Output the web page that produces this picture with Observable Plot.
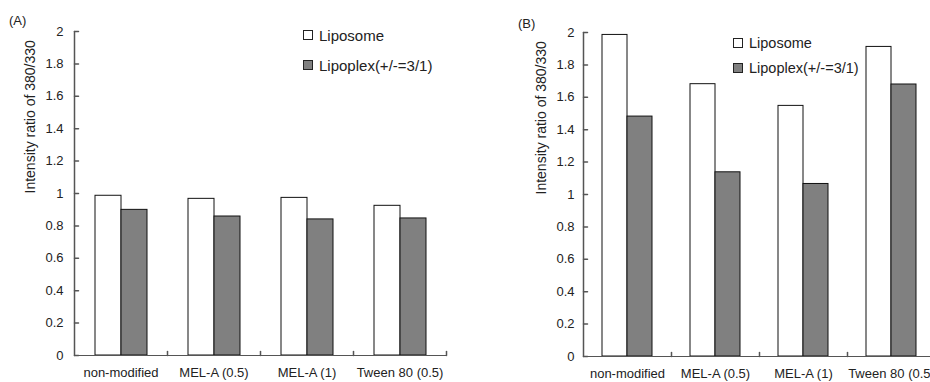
<!DOCTYPE html>
<html><head><meta charset="utf-8">
<script src="https://cdn.jsdelivr.net/npm/d3@7"></script>
<script src="https://cdn.jsdelivr.net/npm/@observablehq/plot@0.6"></script>
<style>
body{margin:0;background:#fff;}
#wrap{position:relative;width:930px;height:382px;overflow:hidden;font-family:"Liberation Sans",Arial,sans-serif;color:#222;}
.panel{position:absolute;top:0;}
.tag{position:absolute;font-size:13px;line-height:1;}
.leg{position:absolute;line-height:1;white-space:nowrap;display:flex;align-items:center;}
.sw{display:inline-block;box-sizing:border-box;border:1px solid #222;margin-right:6px;}
</style></head><body><div id="wrap"></div>
<script>
const categories = ["non-modified", "MEL-A (0.5)", "MEL-A (1)", "Tween 80 (0.5)"];
const series = ["Liposome", "Lipoplex(+/-=3/1)"];
const liposomeA = [0.986, 0.967, 0.973, 0.924];
const lipoplexA = [0.899, 0.858, 0.840, 0.846];
const liposomeB = [1.985, 1.681, 1.547, 1.911];
const lipoplexB = [1.481, 1.137, 1.065, 1.679];
const yTicks = [0, 0.2, 0.4, 0.6, 0.8, 1, 1.2, 1.4, 1.6, 1.8, 2];
const yLabel = "Intensity ratio of 380/330";
const panelTags = ["(A)", "(B)"];
const seriesColors = ["#ffffff", "#808080"];

const axisColor = "#555";
const vTick = {draw(ctx, l) { ctx.moveTo(0, 0); ctx.lineTo(0, -l); }};
const H = 382;

function makePanel(lipo, plex, cfg) {
  const rows = [];
  categories.forEach((c, i) => {
    rows.push({category: c, series: series[0], value: lipo[i]});
    rows.push({category: c, series: series[1], value: plex[i]});
  });
  const frameH = H - cfg.marginTop - cfg.marginBottom;
  const first = () => categories[0];
  return Plot.plot({
    width: cfg.width, height: H,
    marginLeft: cfg.marginLeft, marginRight: cfg.marginRight,
    marginTop: cfg.marginTop, marginBottom: cfg.marginBottom,
    style: {fontFamily: "'Liberation Sans', Arial, sans-serif", fontSize: "13px", color: "#222", background: "transparent"},
    fx: {domain: categories, padding: 0, axis: null},
    x: {domain: series, paddingInner: 0, paddingOuter: cfg.pad, axis: null},
    y: {domain: [0, 2], axis: null},
    color: {domain: series, range: seriesColors},
    marks: [
      Plot.barY(rows, {fx: "category", x: "series", y: "value", fill: "series", stroke: "#111", strokeWidth: 1}),
      Plot.ruleY([0], {stroke: axisColor}),
      Plot.vector([0], {frameAnchor: "bottom-right", rotate: 0, length: 4, anchor: "start", shape: vTick, stroke: axisColor}),
      Plot.vector([0], {fx: first, frameAnchor: "bottom-left", rotate: 0, length: frameH, anchor: "start", shape: vTick, stroke: axisColor}),
      Plot.vector(yTicks, {fx: first, y: d => d, frameAnchor: "left", rotate: 90, length: 4, anchor: "start", shape: vTick, stroke: axisColor}),
      Plot.axisY({ticks: yTicks, tickSize: 0, tickPadding: cfg.tickPadding, tickFormat: d => String(+d.toFixed(1)), label: null, fontSize: 13}),
      Plot.axisFx({anchor: "bottom", tickSize: 0, tickPadding: 12, label: null, fontSize: 13}),
      Plot.text([yLabel], {fx: first, text: d => d, frameAnchor: "left", rotate: -90, dx: cfg.titleDx, fontSize: 14})
    ]
  });
}

const wrap = document.getElementById("wrap");
function place(el, left) { el.classList.add("panel"); el.style.left = left + "px"; wrap.appendChild(el); }

place(makePanel(liposomeA, lipoplexA, {width: 466, marginLeft: 74, marginRight: 20, marginTop: 31, marginBottom: 27, pad: 0.74, tickPadding: 11, titleDx: -44}), 0);
place(makePanel(liposomeB, lipoplexB, {width: 470, marginLeft: 115, marginRight: 0, marginTop: 32, marginBottom: 26, pad: 0.75, tickPadding: 9, titleDx: -42}), 466);

function tag(text, left, top) {
  const d = document.createElement("div"); d.className = "tag"; d.textContent = text;
  d.style.left = left + "px"; d.style.top = top + "px"; wrap.appendChild(d);
}
tag(panelTags[0], 9, 14);
tag(panelTags[1], 518, 17);

function legend(left, tops, size, sw) {
  series.forEach((s, i) => {
    const d = document.createElement("div"); d.className = "leg";
    d.style.left = left + "px"; d.style.top = tops[i] + "px"; d.style.fontSize = size + "px"; d.style.height = (sw + 2) + "px";
    const b = document.createElement("span"); b.className = "sw";
    b.style.width = sw + "px"; b.style.height = sw + "px"; b.style.background = seriesColors[i];
    const t = document.createElement("span"); t.textContent = s;
    d.appendChild(b); d.appendChild(t); wrap.appendChild(d);
  });
}
legend(303, [29, 59], 15, 10);
legend(733, [37, 62], 14.5, 10);
</script>
</body></html>
